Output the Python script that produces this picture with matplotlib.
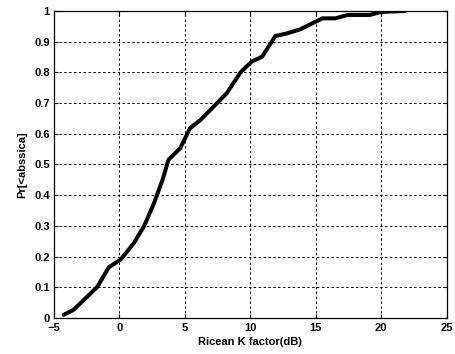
import matplotlib
matplotlib.use("Agg")
import matplotlib.pyplot as plt

k_db = [-4.25, -3.5, -1.7, -0.8, 0.1, 1.1, 1.9, 2.65, 3.3, 3.75, 4.65, 5.4, 6.2, 8.2, 9.25, 10.1, 10.9, 11.9, 12.8, 13.8, 15.5, 16.5, 17.4, 19.1, 20.0, 21.8]
prob = [0.01, 0.026, 0.10, 0.165, 0.19, 0.243, 0.30, 0.374, 0.45, 0.515, 0.553, 0.618, 0.645, 0.732, 0.80, 0.835, 0.851, 0.918, 0.927, 0.94, 0.976, 0.976, 0.987, 0.987, 0.997, 1.0]
xticks = [-5, 0, 5, 10, 15, 20, 25]
yticks = [0, 0.1, 0.2, 0.3, 0.4, 0.5, 0.6, 0.7, 0.8, 0.9, 1]
ytick_labels = ["0", "0.1", "0.2", "0.3", "0.4", "0.5", "0.6", "0.7", "0.8", "0.9", "1"]

plt.rcParams['font.family'] = ['Liberation Sans', 'DejaVu Sans']
plt.rcParams['font.weight'] = 'bold'

fig = plt.figure(figsize=(4.56, 3.54), dpi=100)
ax = fig.add_axes([0.118, 0.102, 0.862, 0.867])
ax.plot(k_db, prob, color='black', linewidth=2.9, solid_joinstyle='round', solid_capstyle='round')
ax.set_xlim(-5, 25)
ax.set_ylim(0, 1)
ax.set_xticks(xticks)
ax.set_yticks(yticks)
ax.set_yticklabels(ytick_labels)
ax.grid(True, color='black', linestyle=(0, (2.5, 2.5)), linewidth=0.7)
ax.tick_params(direction='in', top=True, right=True, labelsize=8, length=3, width=0.8)
ax.tick_params(axis='x', pad=3.5)
ax.tick_params(axis='y', pad=3)
for lbl in ax.get_xticklabels() + ax.get_yticklabels():
    lbl.set_fontweight('bold')
for s in ax.spines.values():
    s.set_linewidth(0.9)
ax.set_xlabel('Ricean K factor(dB)', fontsize=8, fontweight='bold', labelpad=3)
ax.set_ylabel('Pr[<abssica]', fontsize=8, fontweight='bold', labelpad=5)
fig.savefig('out.png', dpi=100)
